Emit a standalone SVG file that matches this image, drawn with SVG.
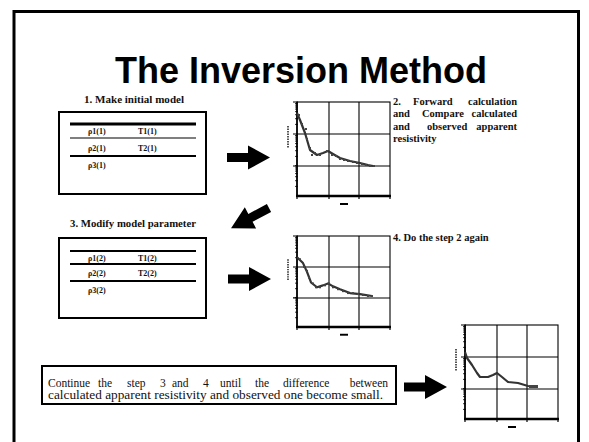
<svg xmlns="http://www.w3.org/2000/svg" xmlns:xlink="http://www.w3.org/1999/xlink" width="589" height="442" viewBox="0 0 589 442">
<style>
.lbl{font-family:"Liberation Serif",serif;font-size:10px;font-weight:bold;fill:#111}
.par{font-family:"Liberation Serif",serif;font-size:10.5px;font-weight:bold;fill:#111}
.sm{font-family:"Liberation Serif",serif;font-size:8px;font-weight:bold;fill:#111}
.bt{font-family:"Liberation Serif",serif;font-size:11.5px;fill:#111}
.box{fill:#fff;stroke:#000;stroke-width:2}
.grid{stroke:#000;stroke-width:1.1;fill:none}
.curve{fill:none;stroke:#333;stroke-width:2.2;stroke-linejoin:round}
.dot{fill:#444}
.arrow{fill:#000}
</style>
<defs>
<path id="ticks" d="M-2,-9.6h3M-2,-15.3h3M-2,-19.3h3M-2,-22.4h3M-2,-24.9h3M-2,-27h3M-2,-28.9h3M-2,-30.5h3" stroke="#000" stroke-width="0.8"/>
<g id="axes">
<rect x="0" y="0" width="93" height="94" class="grid"/>
<path d="M32,0V94M62,0V94M0,32H93M0,64H93" class="grid"/>
<path d="M0,0V94" stroke="#000" stroke-width="1.6"/>
<path d="M-1,94H94" stroke="#000" stroke-width="2.6"/>
<path d="M-4,0h5M-4,32h5M-4,64h5M0,94v3M32,94v3M62,94v3M93,94v3" stroke="#000" stroke-width="1.2"/>
<use xlink:href="#ticks" y="32"/>
<use xlink:href="#ticks" y="64"/>
<use xlink:href="#ticks" y="94"/>
<path d="M-9,24V46" stroke="#555" stroke-width="2" stroke-dasharray="1.5,1"/>
<rect x="43" y="101" width="8" height="2" fill="#000"/>
</g>
<path id="arr" d="M0,-4.5H21V-12L43,0L21,12V4.5H0Z"/>
</defs>
<rect x="0" y="0" width="589" height="442" fill="#fff"/>
<rect x="14" y="11.5" width="564.5" height="445" fill="none" stroke="#000" stroke-width="3"/>
<text x="301" y="83" text-anchor="middle" font-family="Liberation Sans, Arial, sans-serif" font-size="36" font-weight="bold" fill="#000">The Inversion Method</text>

<g id="step1">
<text x="84" y="103" class="lbl" textLength="100" lengthAdjust="spacingAndGlyphs">1. Make initial model</text>
<rect x="59" y="112" width="147" height="82" class="box"/>
<path d="M70,124H196" stroke="#000" stroke-width="3"/>
<path d="M70,138H196" stroke="#000" stroke-width="1.2"/>
<path d="M70,156H196" stroke="#000" stroke-width="1.8"/>
<text x="88" y="134" class="sm">ρ1(1)</text>
<text x="138" y="134" class="sm">T1(1)</text>
<text x="88" y="150.5" class="sm">ρ2(1)</text>
<text x="138" y="150.5" class="sm">T2(1)</text>
<text x="88" y="168" class="sm">ρ3(1)</text>
</g>

<g id="step3">
<text x="70" y="227" class="lbl" textLength="126" lengthAdjust="spacingAndGlyphs">3. Modify model parameter</text>
<rect x="59" y="238" width="147" height="80" class="box"/>
<path d="M70,251H196M70,264H196M70,281H196" stroke="#000" stroke-width="2"/>
<text x="88" y="261" class="sm">ρ1(2)</text>
<text x="138" y="261" class="sm">T1(2)</text>
<text x="88" y="276" class="sm">ρ2(2)</text>
<text x="138" y="276" class="sm">T2(2)</text>
<text x="88" y="293" class="sm">ρ3(2)</text>
</g>

<g id="graph1" transform="translate(297,102)">
<use xlink:href="#axes"/>
<polyline class="curve" points="0,11 3,18 8,31 13,48 20,53 26,51 31,49 36,52 43,56 53,59 63,61 71,63 76,64"/>
<g class="dot">
<rect x="1" y="12" width="2" height="2"/><rect x="4" y="21" width="2" height="2"/><rect x="8" y="26" width="2" height="2"/><rect x="9" y="36" width="2" height="2"/><rect x="12" y="45" width="2" height="2"/><rect x="14" y="52" width="2" height="2"/><rect x="17" y="50" width="2" height="2"/><rect x="22" y="52" width="2" height="2"/><rect x="29" y="48" width="2" height="2"/><rect x="34" y="52" width="2" height="2"/><rect x="38" y="53" width="2" height="2"/><rect x="42" y="56" width="2" height="2"/><rect x="46" y="57" width="2" height="2"/><rect x="50" y="58" width="2" height="2"/><rect x="55" y="59" width="2" height="2"/><rect x="59" y="60" width="2" height="2"/><rect x="64" y="61" width="2" height="2"/><rect x="68" y="62" width="2" height="2"/><rect x="72" y="63" width="2" height="2"/><rect x="76" y="63" width="2" height="2"/>
</g>
</g>

<g id="graph2" transform="translate(297,236) scale(1,0.968)">
<use xlink:href="#axes"/>
<polyline class="curve" points="0,22 6,28 10,37 14,48 20,53 26,51 31,49 36,52 43,55 53,59 63,60 75,62"/>
<g class="dot">
<rect x="2" y="23" width="2" height="2"/><rect x="6" y="31" width="2" height="2"/><rect x="9" y="35" width="2" height="2"/><rect x="11" y="42" width="2" height="2"/><rect x="15" y="48" width="2" height="2"/><rect x="18" y="52" width="2" height="2"/><rect x="22" y="52" width="2" height="2"/><rect x="27" y="50" width="2" height="2"/><rect x="31" y="48" width="2" height="2"/><rect x="35" y="52" width="2" height="2"/><rect x="40" y="54" width="2" height="2"/><rect x="45" y="56" width="2" height="2"/><rect x="50" y="58" width="2" height="2"/><rect x="55" y="58" width="2" height="2"/><rect x="60" y="59" width="2" height="2"/><rect x="65" y="60" width="2" height="2"/><rect x="70" y="61" width="2" height="2"/><rect x="74" y="61" width="2" height="2"/>
</g>
</g>

<g id="graph3" transform="translate(465,325)">
<use xlink:href="#axes"/>
<polyline class="curve" points="0,27 2,33 7,40 12,48 15,52 23,52 28,50 32,48 37,52 43,57 53,58 63,61 72,62" stroke-width="2.6"/>
<rect x="64" y="60" width="9" height="3" class="dot"/>
</g>

<g id="text2">
<text y="104.5" class="par"><tspan x="393">2.</tspan><tspan x="413">Forward</tspan><tspan x="517" text-anchor="end">calculation</tspan></text>
<text y="117" class="par"><tspan x="393">and</tspan><tspan x="422">Compare</tspan><tspan x="517" text-anchor="end">calculated</tspan></text>
<text y="129.5" class="par"><tspan x="393">and</tspan><tspan x="427">observed</tspan><tspan x="517" text-anchor="end">apparent</tspan></text>
<text x="393" y="142" class="par">resistivity</text>
</g>

<g id="text4">
<text x="393" y="241" class="par">4. Do the step 2 again</text>
</g>

<g id="final">
<rect x="42" y="366" width="354" height="38" class="box"/>
<text y="387" class="bt"><tspan x="48">Continue</tspan><tspan x="98">the</tspan><tspan x="127">step</tspan><tspan x="160">3</tspan><tspan x="172">and</tspan><tspan x="203">4</tspan><tspan x="220">until</tspan><tspan x="255">the</tspan><tspan x="283">difference</tspan><tspan x="388" text-anchor="end">between</tspan></text>
<text x="48" y="398.5" class="bt" textLength="335" lengthAdjust="spacingAndGlyphs">calculated apparent resistivity and observed one become small.</text>
</g>

<g id="connectors">
<use xlink:href="#arr" class="arrow" transform="translate(227,157.5)"/>
<use xlink:href="#arr" class="arrow" transform="translate(269,208) rotate(152)"/>
<use xlink:href="#arr" class="arrow" transform="translate(228,279)"/>
<use xlink:href="#arr" class="arrow" transform="translate(404,387)"/>
</g>
</svg>
